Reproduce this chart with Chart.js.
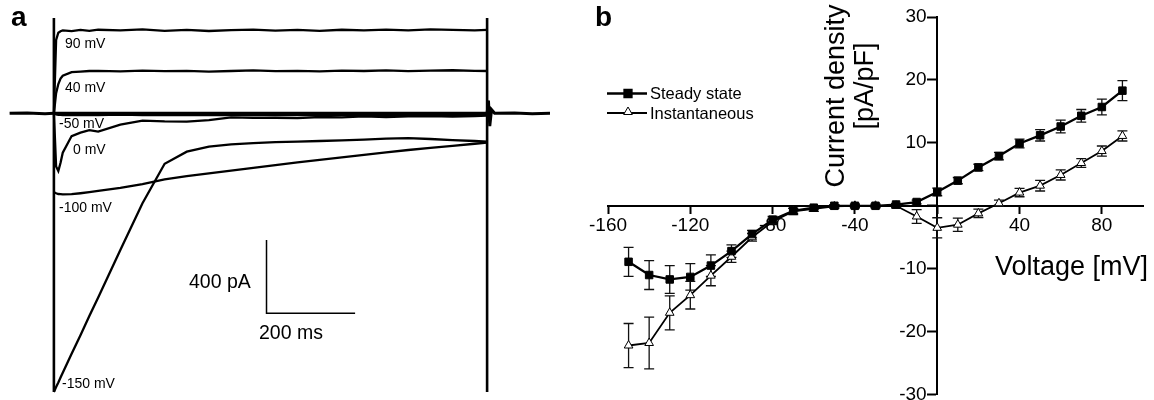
<!DOCTYPE html>
<html>
<head>
<meta charset="utf-8">
<script src="https://cdn.jsdelivr.net/npm/chart.js@4.4.1/dist/chart.umd.min.js"></script>
<style>
body{margin:0;background:#fff;width:1154px;height:400px;position:relative;overflow:hidden;font-family:"Liberation Sans",Arial,sans-serif;color:#000}
canvas{position:absolute}
.t{position:absolute;white-space:nowrap;line-height:1;transform:translate(0,-50%)}
.rot{position:absolute;white-space:nowrap;line-height:1;transform:translate(-50%,-50%) rotate(-90deg)}
</style>
</head>
<body>
<canvas id="traces" width="560" height="400" style="left:0;top:0"></canvas>
<canvas id="iv" width="584" height="409" style="left:570px;top:0"></canvas>

<div class="t" style="left:11px;top:17px;font-size:28px;font-weight:bold">a</div>
<div class="t" style="left:595px;top:17px;font-size:28px;font-weight:bold">b</div>

<div class="t" style="left:65px;top:43px;font-size:14px">90 mV</div>
<div class="t" style="left:65px;top:87px;font-size:14px">40 mV</div>
<div class="t" style="left:59px;top:123px;font-size:14px">-50 mV</div>
<div class="t" style="left:73px;top:149px;font-size:14px">0 mV</div>
<div class="t" style="left:59px;top:207px;font-size:14px">-100 mV</div>
<div class="t" style="left:62px;top:383px;font-size:14px">-150 mV</div>
<div class="t" style="left:189px;top:282px;font-size:19.5px">400 pA</div>
<div class="t" style="left:259px;top:333px;font-size:19.5px">200 ms</div>

<div class="t" style="left:650px;top:93px;font-size:16.5px">Steady state</div>
<div class="t" style="left:650px;top:113px;font-size:16.5px">Instantaneous</div>
<div class="rot" style="left:835px;top:96px;font-size:27px">Current density</div>
<div class="rot" style="left:864px;top:86px;font-size:27px">[pA/pF]</div>
<div class="t" style="left:995px;top:266px;font-size:27px">Voltage [mV]</div>

<script>
// ---- panel a: current traces (ms, pA) ----
let pulseTimes = [0, 5, 10, 15, 20, 40, 60, 80, 100, 150, 200, 250, 300, 350, 400, 450, 500, 550, 600, 650, 700, 750, 800, 850, 900, 950, 978];
let trace90 = [0, 400, 440, 448, 452, 448, 455, 450, 456, 452, 458, 450, 455, 449, 454, 457, 451, 455, 450, 456, 452, 457, 453, 458, 455, 452, 455];
let trace40 = [0, 110, 160, 190, 205, 225, 228, 231, 232, 229, 233, 230, 232, 228, 231, 234, 230, 232, 229, 233, 231, 234, 230, 233, 235, 232, 231];
let traceM50 = [0, -6, -8, -8, -9, -8, -10, -8, -9, -7, -9, -8, -10, -8, -9, -7, -9, -8, -10, -8, -9, -7, -9, -8, -9, -8, -8];
let trace0 = [0, -290, -315, -270, -215, -124, -105, -92, -100, -62, -40, -44, -45, -37, -22, -24, -24, -26, -20, -22, -17, -20, -17, -15, -18, -15, -13];
let traceM100 = [-430, -436, -440, -441, -442, -441, -436, -430, -423, -407, -386, -360, -343, -328, -313, -298, -282, -268, -254, -240, -227, -213, -200, -188, -177, -166, -160];
let traceM150 = [-1520, -1493, -1468, -1441, -1415, -1311, -1210, -1106, -1005, -745, -490, -275, -209, -181, -169, -162, -157, -154, -151, -148, -143, -138, -135, -140, -146, -151, -155];
let baseTimes = [-100, -60, -20, 0, 978, 981, 984, 988, 995, 1040, 1080, 1120];
let baseVals = [0, 2, -2, 0, 0, 70, -70, 20, 0, 2, -2, 0];
let stepEdges = [0, 978];
let clampRange = [520, -1520];
let scaleBarT = [480, 480, 680];
let scaleBarI = [-691, -1091, -1091];

// ---- panel b: I-V relation ----
let voltages = [-150, -140, -130, -120, -110, -100, -90, -80, -70, -60, -50, -40, -30, -20, -10, 0, 10, 20, 30, 40, 50, 60, 70, 80, 90];
let steady = [-8.9, -11.0, -11.7, -11.3, -9.5, -7.2, -4.5, -2.2, -0.8, -0.3, 0.0, 0.0, 0.0, 0.2, 0.6, 2.2, 4.0, 6.1, 7.9, 9.9, 11.2, 12.6, 14.3, 15.7, 18.3];
let steadyErr = [2.3, 2.3, 2.2, 2.1, 1.7, 1.0, 0.6, 0.5, 0.4, 0.3, 0.2, 0.2, 0.2, 0.2, 0.3, 0.6, 0.5, 0.5, 0.6, 0.7, 0.9, 1.0, 1.0, 1.25, 1.6];
let instant = [-22.2, -21.8, -17.0, -14.2, -11.1, -8.1, -5.0, -2.5, -0.9, -0.5, -0.1, 0.0, 0.0, 0.0, -1.7, -3.5, -3.0, -1.2, 0.4, 2.1, 3.2, 4.9, 6.8, 8.7, 11.1];
let instantErr = [3.5, 4.1, 2.7, 2.2, 1.6, 0.9, 0.6, 0.5, 0.5, 0.4, 0.3, 0.3, 0.3, 0.3, 1.1, 1.6, 1.05, 0.66, 0.5, 0.66, 0.85, 0.8, 0.7, 0.8, 0.8];
let xTicks = [-160, -120, -80, -40, 0, 40, 80];
let yTicks = [-30, -20, -10, 0, 10, 20, 30];

Chart.defaults.font.family = '"Liberation Sans", Arial, sans-serif';
Chart.defaults.color = '#000';

function pts(xs, ys) {
    return xs.map((x, i) => ({x: x, y: ys[i]}));
}
function traceSet(vals, w) {
    return {data: pts(pulseTimes, vals), borderColor: '#000', borderWidth: w || 2.3, pointRadius: 0, clip: false};
}

let traceSets = [
    {data: pts(baseTimes, baseVals), borderColor: '#000', borderWidth: 3, pointRadius: 0, clip: false},
    traceSet(trace90), traceSet(trace40), traceSet(traceM50), traceSet(trace0),
    traceSet(traceM100), traceSet(traceM150)
];
stepEdges.forEach(t => {
    traceSets.push({data: pts([t, t], clampRange), borderColor: '#000', borderWidth: 2.6, pointRadius: 0, clip: false});
});
traceSets.push({data: pts(scaleBarT, scaleBarI), borderColor: '#000', borderWidth: 1.5, pointRadius: 0, clip: false});

new Chart(document.getElementById('traces'), {
    type: 'line',
    data: {datasets: traceSets},
    options: {
        responsive: false,
        animation: false,
        layout: {padding: {left: 9.6, right: 10, top: 18, bottom: 8}},
        plugins: {legend: {display: false}, tooltip: {enabled: false}},
        scales: {
            x: {type: 'linear', min: -100, max: 1120, display: false},
            y: {min: -1520, max: 520, display: false}
        }
    }
});

// error bars drawn from the value arrays through the chart scales
let errorBars = {
    id: 'errorBars',
    beforeDatasetsDraw(chart) {
        let ctx = chart.ctx, xs = chart.scales.x, ys = chart.scales.y;
        let errs = [steadyErr, instantErr];
        ctx.save();
        ctx.strokeStyle = '#111';
        ctx.lineWidth = 1.3;
        chart.data.datasets.forEach((ds, d) => {
            ds.data.forEach((v, i) => {
                let px = xs.getPixelForValue(voltages[i]);
                let top = ys.getPixelForValue(v + errs[d][i]);
                let bot = ys.getPixelForValue(v - errs[d][i]);
                ctx.beginPath();
                ctx.moveTo(px, top); ctx.lineTo(px, bot);
                ctx.moveTo(px - 5, top); ctx.lineTo(px + 5, top);
                ctx.moveTo(px - 5, bot); ctx.lineTo(px + 5, bot);
                ctx.stroke();
            });
        });
        ctx.restore();
    },
    afterDraw(chart) {
        // legend keys
        let ctx = chart.ctx;
        ctx.save();
        ctx.strokeStyle = '#000';
        ctx.lineWidth = 2.3;
        ctx.beginPath(); ctx.moveTo(37, 93.5); ctx.lineTo(77, 93.5); ctx.stroke();
        ctx.lineWidth = 1.8;
        ctx.beginPath(); ctx.moveTo(37, 113); ctx.lineTo(77, 113); ctx.stroke();
        ctx.fillStyle = '#000';
        Chart.helpers.drawPoint(ctx, {pointStyle: 'rect', radius: 5.3, borderWidth: 1, rotation: 0}, 58, 93.5);
        ctx.fillStyle = '#fff';
        ctx.lineWidth = 1;
        Chart.helpers.drawPoint(ctx, {pointStyle: 'triangle', radius: 5, borderWidth: 1, rotation: 0}, 58, 112);
        ctx.restore();
    }
};

new Chart(document.getElementById('iv'), {
    type: 'line',
    data: {
        labels: voltages,
        datasets: [
            {label: 'Steady state', data: steady, borderColor: '#000', borderWidth: 2.3,
             pointStyle: 'rect', pointRadius: 5.3, pointBackgroundColor: '#000', pointBorderColor: '#000', pointBorderWidth: 1},
            {label: 'Instantaneous', data: instant, borderColor: '#000', borderWidth: 1.8,
             pointStyle: 'triangle', pointRadius: 5, pointBackgroundColor: '#fff', pointBorderColor: '#000', pointBorderWidth: 1}
        ]
    },
    options: {
        responsive: false,
        animation: false,
        layout: {padding: {left: 38, right: 11, top: 17, bottom: 7}},
        plugins: {legend: {display: false}, tooltip: {enabled: false}},
        scales: {
            x: {
                type: 'linear', min: -160, max: 100, position: {y: 0},
                afterBuildTicks: s => { s.ticks = xTicks.map(v => ({value: v})); },
                grid: {display: true, drawOnChartArea: false, drawTicks: true, tickLength: 7, tickWidth: 2, tickColor: '#000'},
                border: {display: true, color: '#000', width: 2},
                ticks: {font: {size: 19}, padding: 2, maxRotation: 0, callback: v => v === 0 ? '' : String(v)}
            },
            y: {
                type: 'linear', min: -30, max: 30, position: {x: 0},
                afterBuildTicks: s => { s.ticks = yTicks.map(v => ({value: v})); },
                grid: {display: true, drawOnChartArea: false, drawTicks: true, tickLength: 9, tickWidth: 2, tickColor: '#000'},
                border: {display: true, color: '#000', width: 2},
                ticks: {font: {size: 19}, padding: 3, callback: v => v === 0 ? '' : v + '  '}
            }
        }
    },
    plugins: [errorBars]
});
</script>
</body>
</html>
